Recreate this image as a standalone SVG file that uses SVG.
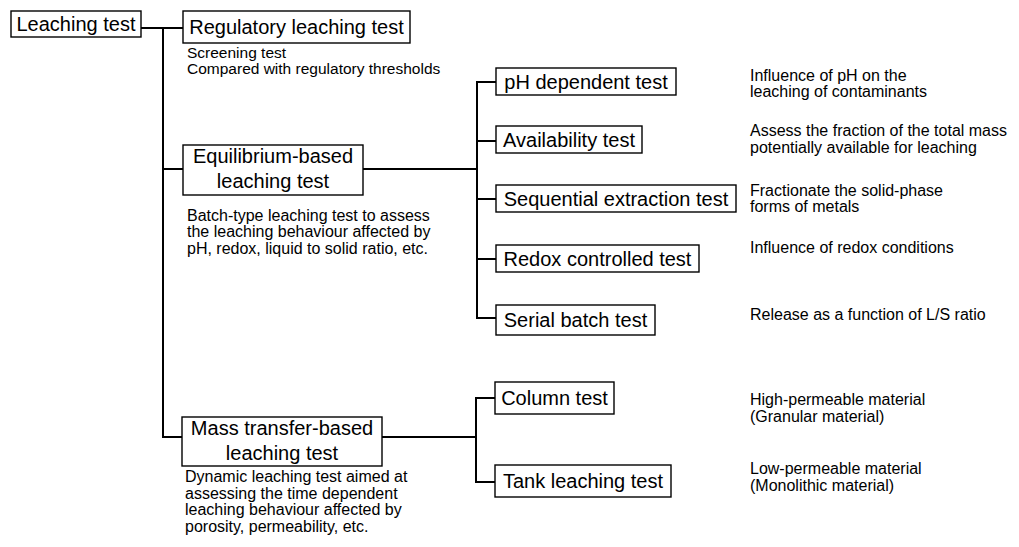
<svg xmlns="http://www.w3.org/2000/svg" width="1019" height="547" viewBox="0 0 1019 547">
<style>
.box{fill:#fff;stroke:#000;stroke-width:1.4}
.t{font-family:"Liberation Sans",Arial,sans-serif;font-size:20px;fill:#000;text-anchor:middle}
.d{font-family:"Liberation Sans",Arial,sans-serif;font-size:16px;fill:#000}
.s{font-size:15.5px}
.c{fill:none;stroke:#000;stroke-width:2}
</style>
<rect width="1019" height="547" fill="#fff"/>
<g id="connectors">
<path class="c" d="M141 28H183"/>
<path class="c" d="M163 28V437H182"/>
<path class="c" d="M163 169H183"/>
<path class="c" d="M363 169H477"/>
<path class="c" d="M496 82H477V318H496"/>
<path class="c" d="M477 141H496M477 199H496M477 259H496"/>
<path class="c" d="M382 437H476"/>
<path class="c" d="M495 398H476V482H495"/>
</g>
<g id="leaching-test">
<rect class="box" x="11" y="11" width="130" height="26"/>
<text class="t" x="76" y="31">Leaching test</text>
</g>
<g id="regulatory">
<rect class="box" x="183" y="11" width="227" height="32"/>
<text class="t" x="296.5" y="34">Regulatory leaching test</text>
<text class="d s" x="187" y="58">Screening test</text>
<text class="d s" x="187" y="74">Compared with regulatory thresholds</text>
</g>
<g id="equilibrium">
<rect class="box" x="183" y="145" width="180" height="50"/>
<text class="t" x="273" y="163">Equilibrium-based</text>
<text class="t" x="273" y="188">leaching test</text>
<text class="d" x="187" y="221">Batch-type leaching  test to assess</text>
<text class="d" x="187" y="237">the leaching behaviour affected by</text>
<text class="d" x="187" y="254">pH, redox, liquid to solid ratio, etc.</text>
</g>
<g id="mass-transfer">
<rect class="box" x="182" y="417" width="200" height="49"/>
<text class="t" x="282" y="435">Mass transfer-based</text>
<text class="t" x="282" y="460">leaching test</text>
<text class="d" x="185" y="482">Dynamic leaching test aimed at</text>
<text class="d" x="185" y="499">assessing the time dependent</text>
<text class="d" x="185" y="515">leaching behaviour  affected by</text>
<text class="d" x="185" y="532">porosity, permeability, etc.</text>
</g>
<g id="ph-dependent">
<rect class="box" x="496" y="68" width="180" height="27"/>
<text class="t" x="586" y="88.5">pH dependent test</text>
<text class="d" x="750" y="81">Influence of pH on the</text>
<text class="d" x="750" y="97">leaching of contaminants</text>
</g>
<g id="availability">
<rect class="box" x="496" y="126" width="146" height="27"/>
<text class="t" x="569" y="146.5">Availability test</text>
<text class="d" x="750" y="136">Assess the fraction of the total mass</text>
<text class="d" x="750" y="153">potentially available for leaching</text>
</g>
<g id="sequential">
<rect class="box" x="496" y="185" width="240" height="27"/>
<text class="t" x="616" y="205.5">Sequential extraction test</text>
<text class="d" x="750" y="196">Fractionate the solid-phase</text>
<text class="d" x="750" y="212">forms of metals</text>
</g>
<g id="redox">
<rect class="box" x="496" y="245" width="203" height="27"/>
<text class="t" x="597.5" y="265.5">Redox controlled test</text>
<text class="d" x="750" y="253">Influence of redox conditions</text>
</g>
<g id="serial-batch">
<rect class="box" x="496" y="305" width="159" height="30"/>
<text class="t" x="575.5" y="327">Serial batch test</text>
<text class="d" x="750" y="320">Release as a function of L/S ratio</text>
</g>
<g id="column">
<rect class="box" x="495" y="382" width="119" height="32"/>
<text class="t" x="554.5" y="405">Column test</text>
<text class="d" x="750" y="405">High-permeable material</text>
<text class="d" x="750" y="422">(Granular material)</text>
</g>
<g id="tank">
<rect class="box" x="495" y="465" width="176" height="32"/>
<text class="t" x="583" y="488">Tank leaching test</text>
<text class="d" x="750" y="474">Low-permeable material</text>
<text class="d" x="750" y="491">(Monolithic material)</text>
</g>
</svg>
